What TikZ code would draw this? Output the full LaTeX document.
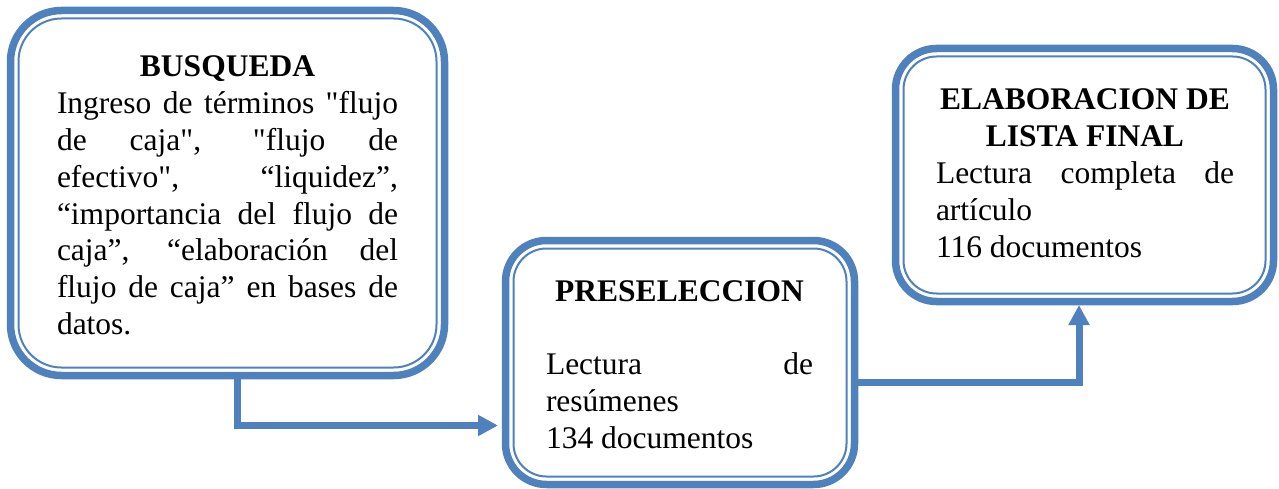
\documentclass[tikz,border=0pt]{standalone}
\usepackage{fontspec}
\newfontfamily\lserif{Liberation Serif}
\usetikzlibrary{arrows.meta}
\definecolor{boxblue}{RGB}{79,129,189}
\tikzset{
  boxshape/.style={draw=boxblue, line width=7.5pt, inner sep=0pt, outer sep=0pt, fill=white},
  innerline/.style={draw=boxblue, line width=2pt},
  boxtext/.style={inner sep=0pt, outer sep=0pt, align=justify, anchor=base,
     font=\lserif\fontsize{31.5}{36.8}\selectfont},
  flowarrow/.style={draw=boxblue, line width=7pt, -{Triangle[length=20pt,width=20pt]}}
}
\newcommand{\myjline}[1]{\makebox[\linewidth][s]{#1}\par}
\newcommand{\mycline}[1]{\makebox[\linewidth][c]{\bfseries #1}\par}
\newcommand{\mylline}[1]{\makebox[\linewidth][l]{#1}\par}
\begin{document}
\begin{tikzpicture}[x=1pt,y=-1pt]
\useasboundingbox (0,0) rectangle (1279,489);
% boxes
\node[boxshape, rounded corners=51pt, minimum width=434pt, minimum height=365pt] (b1) at (227.5,193) {};
\draw[innerline, rounded corners=43pt] ([shift={(8pt,-8pt)}]b1.north west) rectangle ([shift={(-8pt,8pt)}]b1.south east);
\node[boxshape, rounded corners=41pt, minimum width=349pt, minimum height=244pt] (b2) at (680,362.5) {};
\draw[innerline, rounded corners=33pt] ([shift={(8pt,-8pt)}]b2.north west) rectangle ([shift={(-8pt,8pt)}]b2.south east);
\node[boxshape, rounded corners=41pt, minimum width=378pt, minimum height=253pt] (b3) at (1084.5,175) {};
\draw[innerline, rounded corners=33pt] ([shift={(8pt,-8pt)}]b3.north west) rectangle ([shift={(-8pt,8pt)}]b3.south east);
% texts
\node[boxtext, text width=341pt] (t1) at (227.5,77) {%
\spaceskip=0pt \xspaceskip=0pt
\mycline{BUSQUEDA}%
\myjline{Ingreso de términos "flujo}%
\myjline{de caja", "flujo de}%
\myjline{efectivo", “liquidez”,}%
\myjline{“importancia del flujo de}%
\myjline{caja”, “elaboración del}%
\myjline{flujo de caja” en bases de}%
\mylline{datos.}};
\node[boxtext, text width=267pt] (t2) at (679.5,301) {%
\spaceskip=0pt \xspaceskip=0pt
\mycline{PRESELECCION}%
\mylline{}%
\myjline{Lectura de}%
\mylline{resúmenes}%
\mylline{134 documentos}};
\node[boxtext, text width=298pt] (t3) at (1085,110) {%
\spaceskip=0pt \xspaceskip=0pt
\mycline{ELABORACION DE}%
\mycline{LISTA FINAL}%
\myjline{Lectura completa de}%
\mylline{artículo}%
\mylline{116 documentos}};
% connectors
\coordinate (k1) at (237,425.5);
\coordinate (k2) at (1079,382.5);
\draw[flowarrow, shorten >=7.5pt] (b1.south -| k1) -- (k1) -- (b2.west |- k1);
\draw[flowarrow, shorten >=3.5pt] (b2.east |- k2) -- (k2) -- (b3.south -| k2);
\end{tikzpicture}
\end{document}
